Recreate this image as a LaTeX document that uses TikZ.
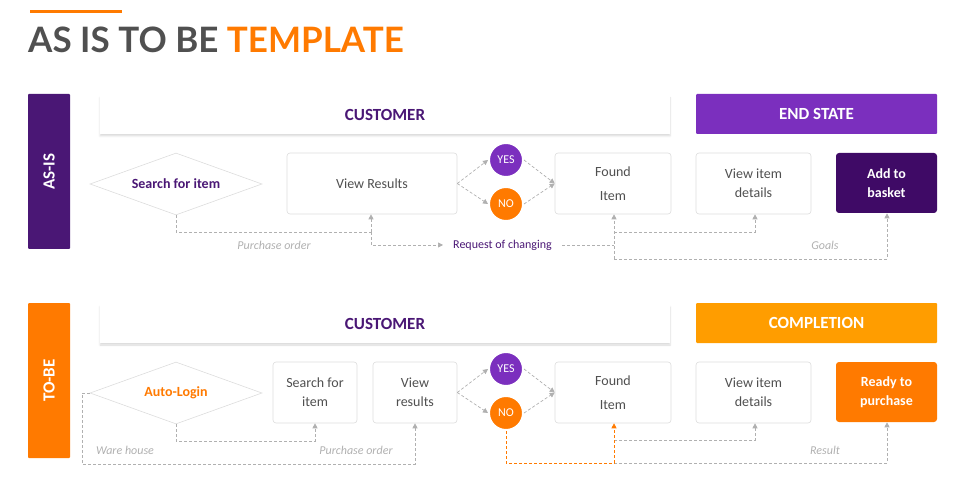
\documentclass[tikz,border=0pt]{standalone}
\usepackage{fontspec}
\setmainfont{Carlito}
\newfontfamily\lato{Lato}
\usetikzlibrary{arrows.meta,shapes.geometric,shadows.blur}
\definecolor{dpur}{HTML}{4A1775}
\definecolor{mpur}{HTML}{7B2FBE}
\definecolor{bpur}{HTML}{3F0A66}
\definecolor{org}{HTML}{FF7A00}
\definecolor{amb}{HTML}{FF9D00}
\definecolor{tgray}{HTML}{505050}
\definecolor{lgray}{HTML}{B0B0B0}
\definecolor{bgray}{HTML}{DDDDDD}
\tikzset{
  box/.style={draw=bgray,fill=white,rounded corners=3pt,line width=0.6pt,font=\fontsize{14}{19}\selectfont,text=tgray,align=center,inner sep=0pt},
  hdr/.style={fill=white,inner sep=0pt,font=\bfseries\fontsize{17}{20}\selectfont,blur shadow={shadow blur steps=6,shadow xshift=0pt,shadow yshift=-2pt,shadow opacity=15}},
  side/.style={inner sep=0pt,rounded corners=1pt,text=white,font=\bfseries\fontsize{17}{20}\selectfont},
  dia/.style={diamond,draw=bgray,fill=white,line width=0.6pt,aspect=2.77,inner sep=0pt,font=\bfseries\fontsize{14}{17}\selectfont},
  circ/.style={circle,draw=white,line width=2pt,minimum size=34pt,inner sep=0pt,text=white,font=\fontsize{12}{14}\selectfont},
  dl/.style={draw=lgray,line width=0.7pt,dash pattern=on 3pt off 2pt},
  ar/.style={dl,-{Triangle[length=5pt,width=5pt]}},
  lab/.style={font=\itshape\fontsize{12}{14}\selectfont,text=lgray,inner sep=0pt}
}
\begin{document}
\begin{tikzpicture}[x=1pt,y=-1pt]
\useasboundingbox (0,0) rectangle (958,478);
\fill[org] (30,10.5) rectangle (122,13.5);
\node[anchor=base west,inner sep=0pt,font=\lato\bfseries\fontsize{35}{40}\selectfont] (title) at (28,53) {\textcolor{tgray}{AS IS TO BE} \textcolor{org}{TEMPLATE}};
% ===== AS-IS =====
\node[side,fill=dpur,minimum width=42pt,minimum height=155pt] (asis) at (49,171.5) {};
\node[rotate=90,text=white,font=\bfseries\fontsize{17}{20}\selectfont] (asist) at (asis.center) {AS-IS};
\node[hdr,minimum width=570pt,minimum height=38pt,text=dpur] (cust1) at (385,115) {CUSTOMER};
\node[side,fill=mpur,minimum width=241pt,minimum height=40pt] (end) at (816.5,114) {END STATE};
\node[dia,minimum width=172pt,minimum height=62pt,text=dpur] (srch) at (176,184) {Search for item};
\node[box,minimum width=170pt,minimum height=61pt] (vr) at (372,183.5) {View Results};
\node[circ,fill=mpur] (yes1) at (506,160) {YES};
\node[circ,fill=org] (no1) at (506,204) {NO};
\node[box,minimum width=116pt,minimum height=61pt] (fi1) at (613,183.5) {Found\\[5pt]Item};
\node[box,minimum width=115pt,minimum height=61pt] (vd1) at (753.5,183.5) {View item\\details};
\node[box,draw=none,fill=bpur,text=white,font=\bfseries\fontsize{14}{19}\selectfont,minimum width=101pt,minimum height=60pt] (add) at (886.5,183) {Add to\\basket};
\draw[ar] (vr.east) -- (yes1.west);
\draw[ar] (vr.east) -- (no1.west);
\draw[ar] (yes1.east) -- (fi1.west);
\draw[ar] (no1.east) -- (fi1.west);
\coordinate (a1) at (176,232);
\coordinate (a2) at (371,232);
\draw[dl] (srch.south) -- (a1) -- (a2);
\draw[ar] (a2) -- (vr.south -| a2);
\node[font=\fontsize{12}{14}\selectfont,text=dpur,anchor=west,inner sep=0pt] (req) at (453,245) {Request of changing};
\coordinate (a3) at (371,245);
\draw[ar] (a2) -- (a3) -- ([xshift=-10pt]req.west);
\coordinate (b1) at (614,245);
\draw[dl] ([xshift=10pt]req.east) -- (b1);
\coordinate (b0) at (614,232);
\coordinate (b2) at (755,232);
\coordinate (b3) at (614,259);
\coordinate (b4) at (887,259);
\draw[ar] (b3) -- (fi1.south -| b3);
\draw[ar] (b0) -- (b2) -- (vd1.south -| b2);
\draw[ar] (b3) -- (b4) -- (add.south -| b4);
\node[lab] (po1) at (274,245) {Purchase order};
\node[lab] (goals) at (825,245) {Goals};
% ===== TO-BE =====
\node[side,fill=org,minimum width=42pt,minimum height=155pt] (tobe) at (49,380.5) {};
\node[rotate=90,text=white,font=\bfseries\fontsize{17}{20}\selectfont] (tobet) at (tobe.center) {TO-BE};
\node[hdr,minimum width=570pt,minimum height=38pt,text=dpur] (cust2) at (385,324) {CUSTOMER};
\node[side,fill=amb,minimum width=241pt,minimum height=40pt] (comp) at (816.5,323) {COMPLETION};
\node[dia,minimum width=172pt,minimum height=62pt,text=org] (auto) at (176,393) {Auto-Login};
\node[box,minimum width=84pt,minimum height=61pt] (si) at (315,392.5) {Search for\\item};
\node[box,minimum width=84pt,minimum height=61pt] (vr2) at (415,392.5) {View\\results};
\node[circ,fill=mpur] (yes2) at (506,369) {YES};
\node[circ,fill=org] (no2) at (506,413) {NO};
\node[box,minimum width=116pt,minimum height=61pt] (fi2) at (613,392.5) {Found\\[5pt]Item};
\node[box,minimum width=115pt,minimum height=61pt] (vd2) at (753.5,392.5) {View item\\details};
\node[box,draw=none,fill=org,text=white,font=\bfseries\fontsize{14}{19}\selectfont,minimum width=101pt,minimum height=60pt] (rdy) at (886.5,392) {Ready to\\purchase};
\draw[ar] (vr2.east) -- (yes2.west);
\draw[ar] (vr2.east) -- (no2.west);
\draw[ar] (yes2.east) -- (fi2.west);
\draw[ar] (no2.east) -- (fi2.west);
\coordinate (c1) at (176,441);
\coordinate (c2) at (315,441);
\draw[ar] (auto.south) -- (c1) -- (c2) -- (si.south -| c2);
\coordinate (d1) at (82,393);
\coordinate (d2) at (82,464);
\coordinate (d3) at (415,464);
\draw[ar] (auto.west) -- (d1) -- (d2) -- (d3) -- (vr2.south -| d3);
\coordinate (e1) at (506,463);
\coordinate (e2) at (614,463);
\coordinate (e0) at (614,440);
\coordinate (e3) at (755,440);
\coordinate (e4) at (887,463);
\draw[ar] (e0) -- (e3) -- (vd2.south -| e3);
\draw[ar] (e2) -- (e4) -- (rdy.south -| e4);
\draw[ar,draw=org,-{Triangle[length=5pt,width=5pt,fill=org]}] (no2.south) -- (e1) -- (e2) -- (fi2.south -| e2);
\node[lab] (wh) at (125,450) {Ware house};
\node[lab] (po2) at (356,450) {Purchase order};
\node[lab] (res) at (825,450) {Result};
\end{tikzpicture}
\end{document}
